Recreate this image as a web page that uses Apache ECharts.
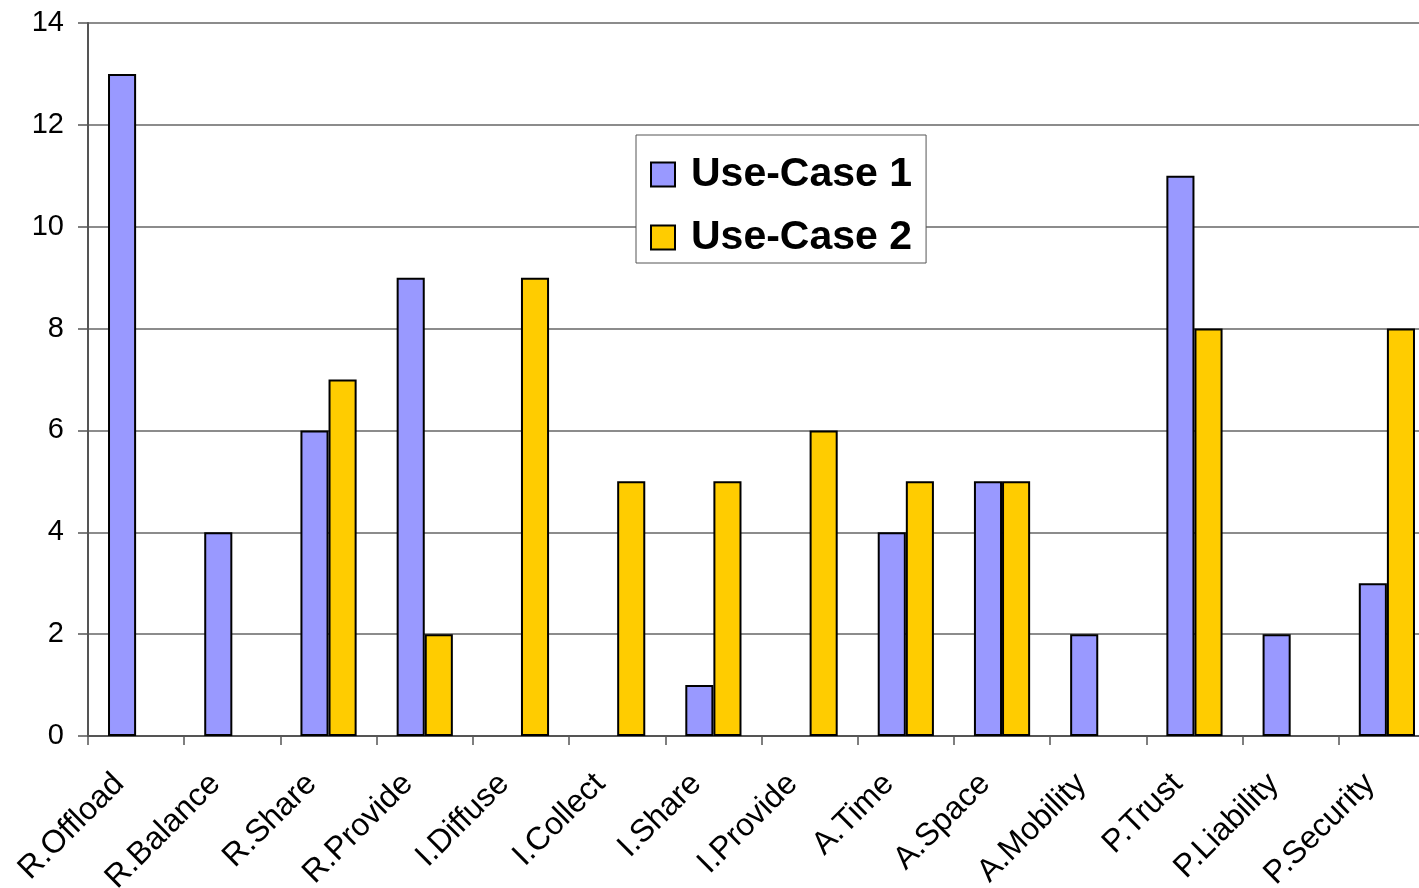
<!DOCTYPE html>
<html>
<head>
<meta charset="utf-8">
<script src="https://cdn.jsdelivr.net/npm/echarts@6/dist/echarts.min.js"></script>
<style>
  html, body { margin: 0; padding: 0; background: #fff; overflow: hidden; width: 1419px; height: 888px; }
  #wrap { position: relative; width: 1419px; height: 888px; overflow: hidden; }
  #chart { position: absolute; left: 0; top: 0; width: 1440px; height: 888px; }
</style>
</head>
<body>
<div id="wrap"><div id="chart"></div></div>
<script>
// Requirement categories per use case
const categories = [
  'R.Offload', 'R.Balance', 'R.Share', 'R.Provide', 'I.Diffuse', 'I.Collect', 'I.Share',
  'I.Provide', 'A.Time', 'A.Space', 'A.Mobility', 'P.Trust', 'P.Liability', 'P.Security'
];
const useCase1 = [13, 4, 6, 9, 0, 0, 1, 0, 4, 5, 2, 11, 2, 3];
const useCase2 = [0, 0, 7, 2, 9, 5, 5, 6, 5, 5, 0, 8, 0, 8];
const seriesNames = ['Use-Case 1', 'Use-Case 2'];
const yTicks = { min: 0, max: 14, interval: 2 };

const font = 'Arial, "Liberation Sans", sans-serif';
const chart = echarts.init(document.getElementById('chart'), null, { renderer: 'canvas' });

// zero counts get no bar at all (no outline along the baseline)
const toBars = (values) => values.map(v => (v === 0 ? '-' : v));

const barStyle = (color) => ({
  color: color,
  borderColor: '#000',
  borderWidth: 2
});

chart.setOption({
  animation: false,
  backgroundColor: '#fff',
  grid: {
    left: 88, top: 23, width: 1347, height: 713,
    containLabel: false,
    outerBoundsMode: 'none'
  },
  legend: {
    data: seriesNames,
    orient: 'vertical',
    left: 636,
    top: 135,
    padding: [19, 14, 5, 14],
    itemGap: 22,
    itemWidth: 24,
    itemHeight: 24,
    icon: 'rect',
    borderColor: '#555',
    borderWidth: 1,
    backgroundColor: '#fff',
    itemStyle: { borderColor: '#000', borderWidth: 2 },
    formatter: (name) => '{t|' + name + '}',
    textStyle: {
      rich: {
        t: {
          fontFamily: font, fontSize: 41, fontWeight: 'bold', color: '#000',
          padding: [0, 0, 0, 11]
        }
      }
    }
  },
  xAxis: {
    type: 'category',
    data: categories,
    axisLine: { show: true, lineStyle: { color: '#555', width: 2 } },
    axisTick: { show: true, alignWithLabel: false, length: 9, lineStyle: { color: '#555', width: 1.5 } },
    axisLabel: {
      interval: 0,
      rotate: 45,
      margin: 26,
      padding: [0, 24, 0, 0],
      fontFamily: font,
      fontSize: 32,
      color: '#000'
    }
  },
  yAxis: {
    type: 'value',
    min: yTicks.min,
    max: yTicks.max,
    interval: yTicks.interval,
    axisLine: { show: true, lineStyle: { color: '#555', width: 2 } },
    axisTick: { show: true, inside: false, length: 10, lineStyle: { color: '#555', width: 1.5 } },
    axisLabel: { margin: 24, fontFamily: font, fontSize: 29, color: '#000' },
    splitLine: { show: true, lineStyle: { color: '#666', width: 1.5 } }
  },
  series: [
    {
      name: seriesNames[0],
      type: 'bar',
      data: toBars(useCase1),
      barGap: '0%',
      barCategoryGap: '41.6%',
      itemStyle: barStyle('#9999FF')
    },
    {
      name: seriesNames[1],
      type: 'bar',
      data: toBars(useCase2),
      barGap: '0%',
      barCategoryGap: '41.6%',
      itemStyle: barStyle('#FFCC00')
    }
  ]
});
</script>
</body>
</html>
